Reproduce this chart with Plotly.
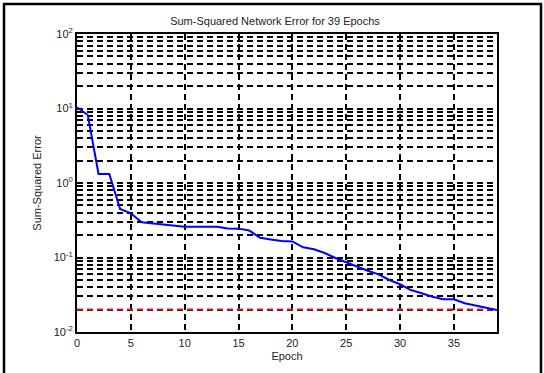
import plotly.graph_objects as go

epochs = list(range(0, 40))
sse = [10.4, 8.18, 1.32, 1.32, 0.448, 0.392, 0.297, 0.286, 0.279, 0.269,
       0.259, 0.259, 0.259, 0.259, 0.245, 0.244, 0.230, 0.184, 0.174, 0.166,
       0.164, 0.137, 0.129, 0.115, 0.0985, 0.0857, 0.0752, 0.0665, 0.0595, 0.0499,
       0.0437, 0.0366, 0.0331, 0.0298, 0.0275, 0.0275, 0.0243, 0.0227, 0.0213, 0.0197]
goal = 0.02
x_ticks = [0, 5, 10, 15, 20, 25, 30, 35]
decades = [-2, -1, 0, 1, 2]

W, H = 544, 373
L, R, T, B = 77, 47, 34, 41
pw, ph = W - L - R, H - T - B

yvals, ytext = [], []
for d in decades:
    for m in range(1, 10):
        if d == 2 and m > 1:
            break
        yvals.append(m * 10.0 ** d)
        ytext.append(f"10<sup>{d}</sup>" if m == 1 else "")

font = dict(family="Arial, Liberation Sans, sans-serif", size=11, color="#222222")

fig = go.Figure()
fig.add_trace(go.Scatter(x=[epochs[0], epochs[-1]], y=[goal, goal], mode="lines",
                         line=dict(color="#d42020", width=2, dash="6px,4px"),
                         showlegend=False, hoverinfo="skip"))
fig.add_trace(go.Scatter(x=epochs, y=sse, mode="lines",
                         line=dict(color="#0000ff", width=2),
                         showlegend=False))

fig.update_layout(
    width=W, height=H,
    margin=dict(l=L, r=R, t=T, b=B, autoexpand=False),
    paper_bgcolor="white", plot_bgcolor="white",
    font=font,
    title=dict(text="Sum-Squared Network Error for 39 Epochs", x=(275 - L) / pw, xref="paper",
               xanchor="center", y=1 - 21 / H, yanchor="middle", font=font),
    xaxis=dict(range=[0, 39], tickvals=x_ticks, showgrid=True, gridcolor="black",
               gridwidth=2, griddash="6px,4px", showline=True, linecolor="black",
               linewidth=2, mirror=True, zeroline=False, ticks="", automargin=False,
               tickfont=font,
               title=dict(text="Epoch", standoff=4, font=font)),
    yaxis=dict(type="log", range=[-2, 2], tickvals=yvals, ticktext=ytext,
               showgrid=True, gridcolor="black", gridwidth=2, griddash="6px,4px",
               showline=True, linecolor="black", linewidth=2, mirror=True,
               zeroline=False, ticks="", automargin=False, tickfont=font,
               title=dict(text="Sum-Squared Error", standoff=10, font=font)),
    shapes=[dict(type="rect", xref="paper", yref="paper",
                 x0=(4 - L) / pw, x1=(541 - L) / pw,
                 y0=(H - B - 380) / ph, y1=(H - B - 4) / ph,
                 line=dict(color="black", width=2.5), layer="above")],
)

fig.write_html("out.html", config={"displayModeBar": False},
               post_script="document.body.style.margin='0';document.body.style.overflow='hidden';")
